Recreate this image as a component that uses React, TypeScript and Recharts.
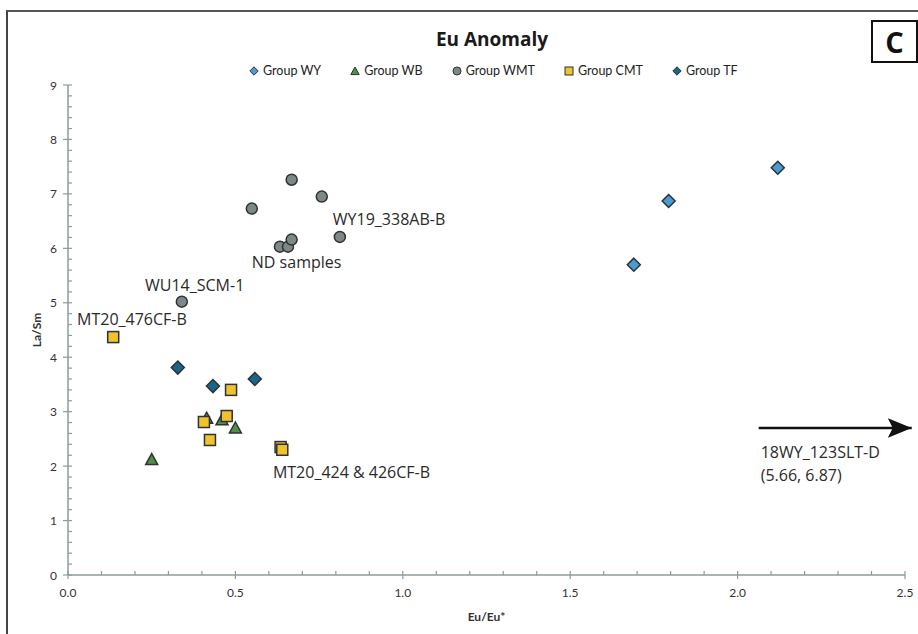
import { ScatterChart, Scatter, XAxis, YAxis, ReferenceLine, Legend } from 'recharts';

// Eu/Eu* vs La/Sm
const groupWY = [
  { x: 1.69, y: 5.7 },
  { x: 1.794, y: 6.87 },
  { x: 2.12, y: 7.48 },
];
const groupWB = [
  { x: 0.25, y: 2.12 },
  { x: 0.414, y: 2.88 },
  { x: 0.46, y: 2.85 },
  { x: 0.5, y: 2.7 },
];
const groupWMT = [
  { x: 0.34, y: 5.02 },
  { x: 0.549, y: 6.73 },
  { x: 0.633, y: 6.03 },
  { x: 0.657, y: 6.03 },
  { x: 0.668, y: 6.16 },
  { x: 0.668, y: 7.26 },
  { x: 0.758, y: 6.95 },
  { x: 0.812, y: 6.21 },
];
const groupCMT = [
  { x: 0.135, y: 4.37 },
  { x: 0.406, y: 2.81 },
  { x: 0.424, y: 2.48 },
  { x: 0.474, y: 2.92 },
  { x: 0.487, y: 3.4 },
  { x: 0.635, y: 2.35 },
  { x: 0.64, y: 2.3 },
];
const groupTF = [
  { x: 0.328, y: 3.81 },
  { x: 0.433, y: 3.47 },
  { x: 0.558, y: 3.6 },
];

const annotations = [
  { x: 0.791, y: 6.53, label: 'WY19_338AB-B' },
  { x: 0.549, y: 5.74, label: 'ND samples' },
  { x: 0.23, y: 5.33, label: 'WU14_SCM-1' },
  { x: 0.027, y: 4.71, label: 'MT20_476CF-B' },
  { x: 0.612, y: 1.89, label: 'MT20_424 & 426CF-B' },
  { x: 2.069, y: 2.26, label: '18WY_123SLT-D' },
  { x: 2.069, y: 1.84, label: '(5.66, 6.87)' },
];
const arrowStart = { x: 2.063, y: 2.7 };
const arrowEnd = { x: 2.52, y: 2.7 };

const xMajor = [0, 0.5, 1.0, 1.5, 2.0, 2.5];
const yMajor = [0, 1, 2, 3, 4, 5, 6, 7, 8, 9];
const xTicks = Array.from({ length: 26 }, (_, i) => Math.round(i * 10) / 100);
const yTicks = Array.from({ length: 46 }, (_, i) => Math.round(i * 20) / 100);

const AXIS = '#8b9c9c';
const WY_FILL = '#4a9bd3';
const WB_FILL = '#4f9146';
const WMT_FILL = '#7e8886';
const CMT_FILL = '#f2c12e';
const TF_FILL = '#1c6588';
const EDGE = '#2c3236';
const TICK_FONT = 'Lato, "Open Sans", sans-serif';
const TEXT_FONT = '"Open Sans", "Noto Sans", sans-serif';

const diamond = (fill: string) => (p: any) => (
  <path
    d={`M${p.cx},${p.cy - 6.5}L${p.cx + 6.5},${p.cy}L${p.cx},${p.cy + 6.5}L${p.cx - 6.5},${p.cy}Z`}
    fill={fill}
    stroke={EDGE}
    strokeWidth={1.5}
  />
);
const triangle = (p: any) => (
  <path
    d={`M${p.cx},${p.cy - 6}L${p.cx + 6},${p.cy + 5}L${p.cx - 6},${p.cy + 5}Z`}
    fill={WB_FILL}
    stroke={EDGE}
    strokeWidth={1.5}
  />
);
const circle = (p: any) => (
  <circle cx={p.cx} cy={p.cy} r={5.5} fill={WMT_FILL} stroke={EDGE} strokeWidth={1.5} />
);
const square = (p: any) => (
  <rect x={p.cx - 5.5} y={p.cy - 5.5} width={11} height={11} fill={CMT_FILL} stroke={EDGE} strokeWidth={1.5} />
);
const annotationText = (p: any) => (
  <text
    x={p.cx}
    y={p.cy}
    dominantBaseline="central"
    fontFamily={TEXT_FONT}
    fontSize={16}
    fill="#2a2a2a"
  >
    {p.payload.label}
  </text>
);

const isMajor = (v: number, list: number[]) => list.some(m => Math.abs(m - v) < 1e-6);

const YTick = (props: any) => {
  const { x, y, payload } = props;
  const major = isMajor(payload.value, yMajor);
  return (
    <g>
      <line x1={major ? x - 5 : x} x2={x + 4} y1={y} y2={y} stroke={AXIS} strokeWidth={1.2} />
      {major && (
        <text x={x - 11} y={y} textAnchor="end" dominantBaseline="central" fontFamily={TICK_FONT} fontSize={12} fill="#333">
          {payload.value}
        </text>
      )}
    </g>
  );
};

const XTick = (props: any) => {
  const { x, y, payload } = props;
  const major = isMajor(payload.value, xMajor);
  return (
    <g>
      <line x1={x} x2={x} y1={y - 4} y2={major ? y + 4 : y} stroke={AXIS} strokeWidth={1.2} />
      {major && (
        <text x={x} y={y + 17} textAnchor="middle" dominantBaseline="central" fontFamily={TICK_FONT} fontSize={12} fill="#333">
          {payload.value.toFixed(1)}
        </text>
      )}
    </g>
  );
};

const legendItems = [
  { name: 'Group WY', kind: 'diamond', fill: WY_FILL },
  { name: 'Group WB', kind: 'triangle', fill: WB_FILL },
  { name: 'Group WMT', kind: 'circle', fill: WMT_FILL },
  { name: 'Group CMT', kind: 'square', fill: CMT_FILL },
  { name: 'Group TF', kind: 'diamond', fill: TF_FILL },
];

const LegendIcon = ({ kind, fill }: { kind: string; fill: string }) => (
  <svg width={10} height={10} style={{ marginRight: 4 }}>
    {kind === 'diamond' && <path d="M5,0.8L9.2,5L5,9.2L0.8,5Z" fill={fill} stroke={EDGE} strokeWidth={1} />}
    {kind === 'triangle' && <path d="M5,1L9.2,8.6L0.8,8.6Z" fill={fill} stroke={EDGE} strokeWidth={1} />}
    {kind === 'circle' && <circle cx={5} cy={5} r={4} fill={fill} stroke={EDGE} strokeWidth={1} />}
    {kind === 'square' && <rect x={1} y={1} width={8} height={8} fill={fill} stroke={EDGE} strokeWidth={1} />}
  </svg>
);

const LegendContent = () => (
  <div style={{ display: 'flex', alignItems: 'center', fontFamily: TICK_FONT, fontSize: 12.5, color: '#222' }}>
    {legendItems.map(item => (
      <div key={item.name} style={{ display: 'flex', alignItems: 'center', marginRight: 29 }}>
        <LegendIcon kind={item.kind} fill={item.fill} />
        <span>{item.name}</span>
      </div>
    ))}
  </div>
);

export default function App() {
  return (
    <div style={{ position: 'relative', width: 918, height: 634, background: '#fff', overflow: 'hidden' }}>
      <style>{'body{margin:0}'}</style>
      <svg width={0} height={0} style={{ position: 'absolute' }}>
        <defs>
          <marker id="arrowHead" markerUnits="userSpaceOnUse" markerWidth={26} markerHeight={20} refX={24} refY={10} orient="auto">
            <path d="M0,0L24,10L0,20L5,10Z" fill="#111" />
          </marker>
        </defs>
      </svg>
      {/* outer frame, cut off at right and bottom */}
      <div style={{ position: 'absolute', left: 6, top: 10, width: 940, height: 660, borderLeft: '2px solid #444', borderTop: '2px solid #555' }} />
      <div
        style={{
          position: 'absolute', left: 871, top: 20, width: 43, height: 39, border: '2px solid #111',
          display: 'flex', alignItems: 'center', justifyContent: 'center',
          fontFamily: TEXT_FONT, fontWeight: 700, fontSize: 29, color: '#111',
        }}
      >
        C
      </div>
      <div
        style={{
          position: 'absolute', left: 0, width: 984, top: 26, textAlign: 'center',
          fontFamily: TEXT_FONT, fontWeight: 700, fontSize: 19, color: '#1a1a1a',
        }}
      >
        Eu Anomaly
      </div>
      <div style={{ position: 'absolute', left: 0, top: 0 }}>
        <ScatterChart width={918} height={634} margin={{ top: 85, right: 13, bottom: 11, left: 8 }}>
          <XAxis
            type="number"
            dataKey="x"
            domain={[0, 2.5]}
            ticks={xTicks}
            interval={0}
            allowDataOverflow
            tickSize={0}
            tickMargin={0}
            tickLine={false}
            axisLine={{ stroke: AXIS, strokeWidth: 1.5 }}
            tick={XTick}
            height={48}
            label={{ value: 'Eu/Eu*', position: 'insideBottom', offset: 2, fontFamily: TICK_FONT, fontWeight: 700, fontSize: 12, fill: '#333' }}
          />
          <YAxis
            type="number"
            dataKey="y"
            domain={[0, 9]}
            ticks={yTicks}
            interval={0}
            allowDataOverflow
            tickSize={0}
            tickMargin={0}
            tickLine={false}
            axisLine={{ stroke: AXIS, strokeWidth: 1.5 }}
            tick={YTick}
            width={60}
            label={{ value: 'La/Sm', angle: -90, position: 'center', dx: -1, fontFamily: TICK_FONT, fontWeight: 700, fontSize: 12, fill: '#333' }}
          />
          <Legend
            layout="horizontal"
            verticalAlign="middle"
            align="center"
            content={LegendContent}
            wrapperStyle={{ top: 63, left: 249, width: 'auto' }}
          />
          <Scatter name="Group WY" data={groupWY} shape={diamond(WY_FILL)} isAnimationActive={false} />
          <Scatter name="Group WB" data={groupWB} shape={triangle} isAnimationActive={false} />
          <Scatter name="Group WMT" data={groupWMT} shape={circle} isAnimationActive={false} />
          <Scatter name="Group CMT" data={groupCMT} shape={square} isAnimationActive={false} />
          <Scatter name="Group TF" data={groupTF} shape={diamond(TF_FILL)} isAnimationActive={false} />
          <Scatter name="labels" data={annotations} shape={annotationText} legendType="none" isAnimationActive={false} />
          <ReferenceLine
            segment={[arrowStart, arrowEnd]}
            ifOverflow="visible"
            stroke="#111"
            strokeWidth={2.5}
            markerEnd="url(#arrowHead)"
          />
        </ScatterChart>
      </div>
    </div>
  );
}
